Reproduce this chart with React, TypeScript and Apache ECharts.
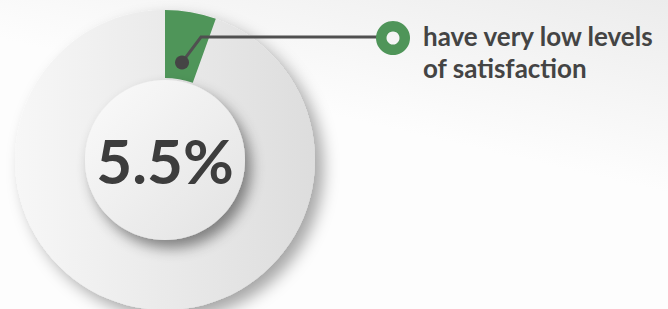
import React, { useEffect, useRef } from "react";
import * as echarts from "echarts";

const categories = ["have very low levels of satisfaction", "other"];
const values = [5.5, 94.5];
const calloutLines = ["have very low levels", "of satisfaction"];

export default function App() {
  const ref = useRef<HTMLDivElement>(null);
  useEffect(() => {
    if (!ref.current) return;
    const chart = echarts.init(ref.current, null, { renderer: "svg" });
    const cx = 165;
    const cy = 160;
    const total = values.reduce((a, b) => a + b, 0);
    const mid = ((values[0] / total) * 360) / 2;
    const rad = (mid * Math.PI) / 180;
    const dotR = 99;
    const dx = cx + dotR * Math.sin(rad);
    const dy = cy - dotR * Math.cos(rad);
    const font = "Lato, 'Open Sans', sans-serif";

    chart.setOption({
      animation: false,
      graphic: [
        {
          type: "rect",
          z: 0,
          silent: true,
          shape: { x: 0, y: 0, width: 668, height: 309 },
          style: {
            fill: new echarts.graphic.LinearGradient(1, 0, 0.75, 0.5, [
              { offset: 0, color: "#ececec" },
              { offset: 1, color: "#fdfdfd" },
            ]),
          },
        },
        {
          type: "polyline",
          z: 100,
          silent: true,
          shape: { points: [[dx, dy], [201, 37], [380, 37]] },
          style: { stroke: "#505050", lineWidth: 3, fill: "none" },
        },
        {
          type: "circle",
          z: 101,
          silent: true,
          shape: { cx: dx, cy: dy, r: 7 },
          style: { fill: "#454545" },
        },
        {
          type: "ring",
          z: 101,
          silent: true,
          shape: { cx: 393, cy: 38, r: 17, r0: 6.5 },
          style: { fill: "#4f9559" },
        },
        ...calloutLines.map((line, i) => ({
          type: "text",
          z: 101,
          silent: true,
          x: 423,
          y: 36 + i * 31.5,
          style: {
            text: line,
            font: `bold 26px ${font}`,
            fill: "#444444",
            textVerticalAlign: "middle",
          },
        })),
      ],
      series: [
        {
          type: "pie",
          silent: true,
          center: [cx, cy],
          radius: [0, 150],
          label: { show: false },
          labelLine: { show: false },
          emphasis: { disabled: true },
          data: [
            {
              value: total,
              name: "base",
              itemStyle: {
                color: new echarts.graphic.LinearGradient(0, 0, 1, 0, [
                  { offset: 0, color: "#f7f7f7" },
                  { offset: 1, color: "#dddddd" },
                ]),
                shadowColor: "rgba(0,0,0,0.35)",
                shadowBlur: 16,
                shadowOffsetX: 8,
                shadowOffsetY: 8,
              },
            },
          ],
        },
        {
          type: "pie",
          silent: true,
          center: [cx, cy],
          radius: [82, 150],
          startAngle: 90,
          clockwise: true,
          label: { show: false },
          labelLine: { show: false },
          emphasis: { disabled: true },
          data: [
            { value: values[0], name: categories[0], itemStyle: { color: "#4f9559" } },
            { value: values[1], name: categories[1], itemStyle: { color: "rgba(0,0,0,0)" } },
          ],
        },
        {
          type: "pie",
          silent: true,
          center: [cx, cy],
          radius: [0, 80],
          labelLine: { show: false },
          emphasis: { disabled: true },
          label: {
            show: true,
            position: "center",
            formatter: () => `${values[0]}%`,
            fontFamily: font,
            fontWeight: "bold",
            fontSize: 62,
            color: "#3d3d3d",
          },
          data: [
            {
              value: total,
              name: "center",
              itemStyle: {
                color: new echarts.graphic.LinearGradient(0, 0, 1, 1, [
                  { offset: 0, color: "#fbfbfb" },
                  { offset: 1, color: "#e2e2e2" },
                ]),
                shadowColor: "rgba(0,0,0,0.45)",
                shadowBlur: 14,
                shadowOffsetX: 6,
                shadowOffsetY: 8,
              },
            },
          ],
        },
      ],
    });
    return () => chart.dispose();
  }, []);
  return (
    <div
      ref={ref}
      style={{ position: "absolute", left: 0, top: 0, width: 668, height: 309 }}
    />
  );
}
